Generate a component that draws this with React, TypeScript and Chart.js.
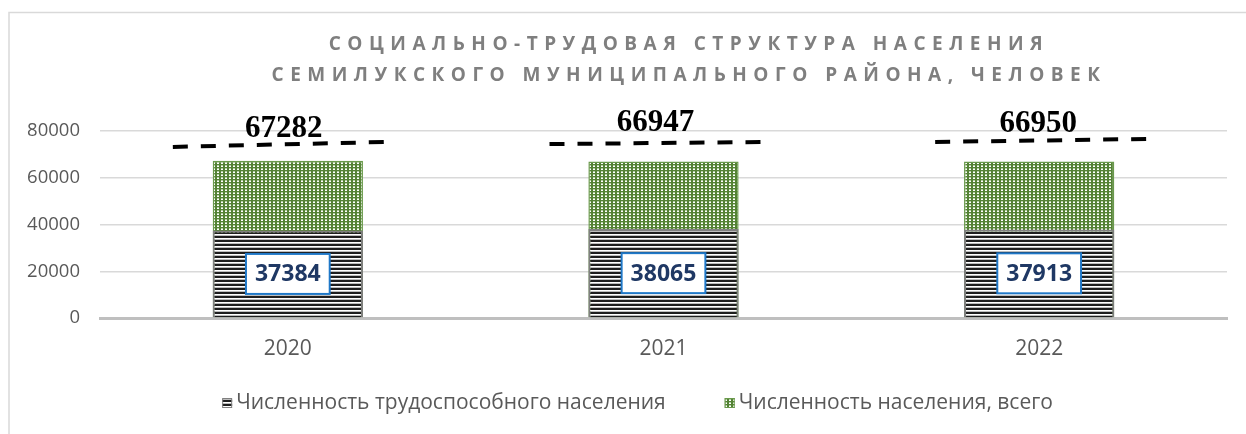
import React, { useEffect, useRef } from 'react';
import { Chart, registerables } from 'chart.js';

Chart.register(...registerables);

const categories = ['2020', '2021', '2022'];
const workingPopulation = [37384, 38065, 37913];
const totalPopulation = [67282, 66947, 66950];
const yTicks = [0, 20000, 40000, 60000, 80000];
const seriesNames = ['Численность трудоспособного населения', 'Численность населения, всего'];
const titleLines = ['СОЦИАЛЬНО-ТРУДОВАЯ СТРУКТУРА НАСЕЛЕНИЯ', 'СЕМИЛУКСКОГО МУНИЦИПАЛЬНОГО РАЙОНА, ЧЕЛОВЕК'];

// decoration styling (offsets relative to bar centres / scale values)
const totalLabelOffsets = [
  { dx: -4, dy: -2 },
  { dx: -8, dy: -8 },
  { dx: -1, dy: -7 },
];
const dashSpec = [
  { dx0: -115, dx1: 97, v0: 73200, v1: 75300 },
  { dx0: -114, dx1: 98, v0: 74400, v1: 75300 },
  { dx0: -104, dx1: 108, v0: 75300, v1: 76600 },
];

const W = 1246;
const H = 434;

function makeStripe(): CanvasPattern {
  const c = document.createElement('canvas');
  c.width = 4;
  c.height = 4;
  const g = c.getContext('2d')!;
  g.fillStyle = '#ffffff';
  g.fillRect(0, 0, 4, 4);
  g.fillStyle = '#1e1e1e';
  g.fillRect(0, 0, 4, 2);
  g.fillStyle = '#bdbdbd';
  g.fillRect(0, 3, 4, 1);
  return g.createPattern(c, 'repeat')!;
}

function makeDots(): CanvasPattern {
  const c = document.createElement('canvas');
  c.width = 4;
  c.height = 3;
  const g = c.getContext('2d')!;
  g.fillStyle = '#548235';
  g.fillRect(0, 0, 4, 3);
  g.fillStyle = '#ffffff';
  g.fillRect(1, 1, 2, 1);
  g.fillStyle = '#b5d0a5';
  g.fillRect(1, 0, 2, 1);
  return g.createPattern(c, 'repeat')!;
}

export default function App() {
  const ref = useRef<HTMLCanvasElement | null>(null);

  useEffect(() => {
    const canvas = ref.current!;
    const stripe = makeStripe();
    const dots = makeDots();

    const decor = {
      id: 'decor',
      beforeDraw(chart: any) {
        const ctx = chart.ctx as CanvasRenderingContext2D;
        ctx.save();
        ctx.fillStyle = '#ffffff';
        ctx.fillRect(0, 0, W, H);
        ctx.strokeStyle = '#d9d9d9';
        ctx.lineWidth = 1.5;
        ctx.beginPath();
        ctx.moveTo(9, H);
        ctx.lineTo(9, 12.5);
        ctx.lineTo(W, 12.5);
        ctx.stroke();
        ctx.restore();
      },
      afterDatasetsDraw(chart: any) {
        const ctx = chart.ctx as CanvasRenderingContext2D;
        const xs = chart.scales.x;
        const ys = chart.scales.y;
        const meta0 = chart.getDatasetMeta(0);
        ctx.save();
        // inner labels
        ctx.font = 'bold 23px "Open Sans"';
        ctx.textAlign = 'center';
        ctx.textBaseline = 'middle';
        workingPopulation.forEach((v, i) => {
          const bar = meta0.data[i];
          const cx = bar.x;
          const cy = (bar.y + bar.base) / 2;
          const text = String(v);
          const tw = ctx.measureText(text).width;
          const bw = tw + 18;
          const bh = 40;
          ctx.fillStyle = '#ffffff';
          ctx.fillRect(cx - bw / 2, cy - bh / 2, bw, bh);
          ctx.strokeStyle = '#1f78c8';
          ctx.lineWidth = 2;
          ctx.strokeRect(cx - bw / 2, cy - bh / 2, bw, bh);
          ctx.fillStyle = '#1f3864';
          ctx.fillText(text, cx, cy + 1);
        });
        // total labels
        ctx.font = 'bold 31px "Liberation Serif"';
        ctx.fillStyle = '#000000';
        totalPopulation.forEach((v, i) => {
          const cx = xs.getPixelForValue(i) + totalLabelOffsets[i].dx;
          const cy = ys.getPixelForValue(80000) + totalLabelOffsets[i].dy;
          ctx.fillText(String(v), cx, cy);
        });
        // dashed lines
        ctx.strokeStyle = '#000000';
        ctx.lineWidth = 4;
        ctx.setLineDash([15, 13]);
        dashSpec.forEach((d, i) => {
          const c = xs.getPixelForValue(i);
          ctx.beginPath();
          ctx.moveTo(c + d.dx0, ys.getPixelForValue(d.v0));
          ctx.lineTo(c + d.dx1, ys.getPixelForValue(d.v1));
          ctx.stroke();
        });
        ctx.restore();
      },
      afterDraw(chart: any) {
        const ctx = chart.ctx as CanvasRenderingContext2D;
        ctx.save();
        // title
        ctx.font = 'bold 19px "Open Sans"';
        ctx.fillStyle = '#7f7f7f';
        ctx.textAlign = 'center';
        ctx.textBaseline = 'middle';
        (ctx as any).letterSpacing = '6.5px';
        const tcx = 689;
        ctx.fillText(titleLines[0], tcx, 45);
        ctx.fillText(titleLines[1], tcx, 76);
        (ctx as any).letterSpacing = '0px';
        // legend
        ctx.font = '21px "Open Sans"';
        ctx.textAlign = 'left';
        const box = 10;
        const gapBoxText = 4;
        const gapItems = 59;
        const w0 = ctx.measureText(seriesNames[0]).width;
        const w1 = ctx.measureText(seriesNames[1]).width;
        const total = box + gapBoxText + w0 + gapItems + box + gapBoxText + w1;
        const ly = 403;
        let lx = 637.5 - total / 2;
        const fills = [stripe, dots];
        const strokes = ['#7f7f7f', '#6a9a4c'];
        [w0, w1].forEach((w, i) => {
          ctx.fillStyle = fills[i];
          ctx.fillRect(lx, ly - box / 2, box, box);
          ctx.strokeStyle = strokes[i];
          ctx.lineWidth = 1;
          ctx.strokeRect(lx + 0.5, ly - box / 2 + 0.5, box - 1, box - 1);
          ctx.fillStyle = '#595959';
          ctx.fillText(seriesNames[i], lx + box + gapBoxText, ly);
          lx += box + gapBoxText + w + gapItems;
        });
        ctx.restore();
      },
    };

    const chart = new Chart(canvas, {
      type: 'bar',
      data: {
        labels: categories,
        datasets: [
          {
            label: seriesNames[0],
            data: workingPopulation,
            backgroundColor: stripe,
            borderColor: '#7f7f7f',
            borderWidth: 2,
            barPercentage: 0.4,
            categoryPercentage: 1,
          },
          {
            label: seriesNames[1],
            data: totalPopulation,
            backgroundColor: dots,
            borderColor: '#6a9a4c',
            borderWidth: 1.5,
            barPercentage: 0.4,
            categoryPercentage: 1,
          },
        ],
      },
      options: {
        animation: false,
        responsive: false,
        maintainAspectRatio: false,
        layout: { padding: { top: 131, right: 19, bottom: 77, left: 0 } },
        plugins: {
          legend: { display: false },
          title: { display: false },
          tooltip: { enabled: false },
        },
        scales: {
          x: {
            stacked: true,
            grid: { display: false, drawTicks: false },
            border: { display: true, color: '#bfbfbf', width: 3 },
            ticks: { color: '#595959', font: { family: 'Open Sans', size: 21 }, padding: 18 },
            afterFit: (ax: any) => {
              ax.height = 39;
            },
          },
          y: {
            stacked: false,
            min: 0,
            max: 80000,
            grid: { color: '#d9d9d9', lineWidth: 1.5, drawTicks: false },
            border: { display: false },
            ticks: {
              color: '#595959',
              font: { family: 'Open Sans', size: 18.5 },
              padding: 20,
              callback: (v: any) => String(v),
            },
            afterBuildTicks: (ax: any) => {
              ax.ticks = yTicks.map((v) => ({ value: v }));
            },
            afterFit: (ax: any) => {
              ax.width = 100;
            },
          },
        },
      } as any,
      plugins: [decor],
    });

    return () => chart.destroy();
  }, []);

  return (
    <div style={{ position: 'absolute', left: 0, top: 0, width: W, height: H, background: '#fff' }}>
      <canvas ref={ref} width={W} height={H} style={{ width: W, height: H, display: 'block' }} />
    </div>
  );
}
